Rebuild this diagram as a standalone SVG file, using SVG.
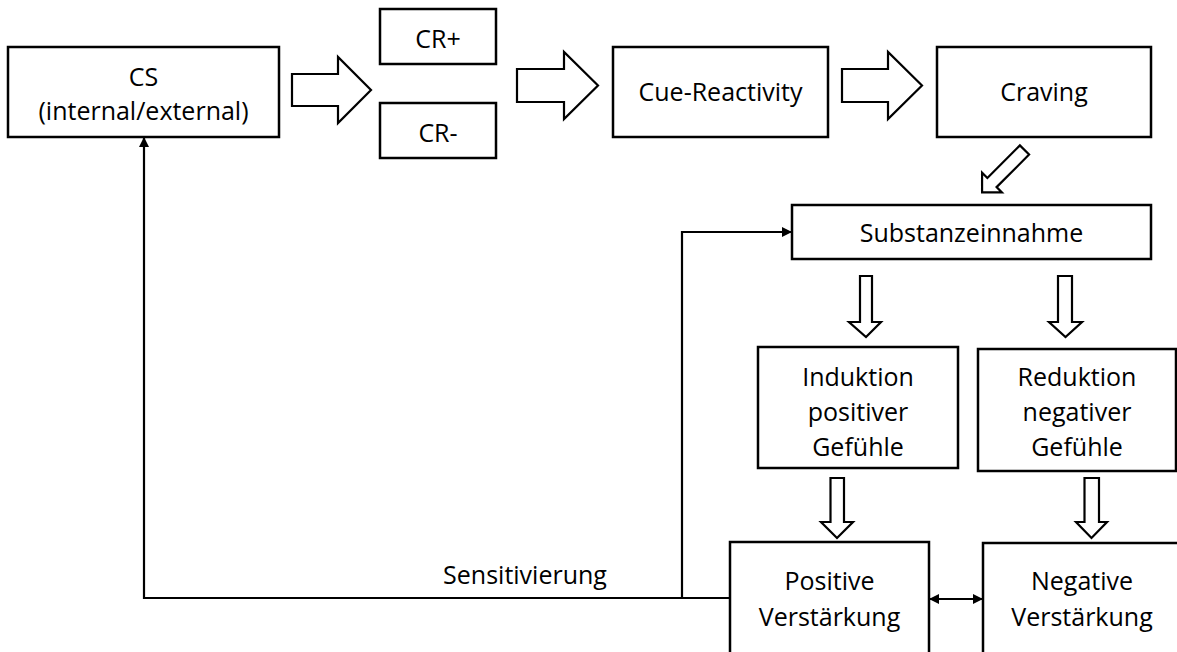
<svg xmlns="http://www.w3.org/2000/svg" width="1177" height="652" viewBox="0 0 1177 652">
  <style>
    .box { fill: #ffffff; stroke: #000000; stroke-width: 2.5; }
    .blk { fill: #ffffff; stroke: #000000; stroke-width: 2.2; stroke-linejoin: miter; }
    .wire { fill: none; stroke: #000000; stroke-width: 2.2; }
    text { font-family: "Open Sans", "DejaVu Sans", sans-serif; font-size: 25px; fill: #000000; text-anchor: middle; }
  </style>
  <defs>
    <marker id="tipEnd" viewBox="0 0 10 10" refX="10" refY="5" markerWidth="10" markerHeight="10" markerUnits="userSpaceOnUse" orient="auto">
      <path d="M0,0 L10,5 L0,10 Z" fill="#000000"/>
    </marker>
    <marker id="tipStart" viewBox="0 0 10 10" refX="0" refY="5" markerWidth="10" markerHeight="10" markerUnits="userSpaceOnUse" orient="auto">
      <path d="M10,0 L0,5 L10,10 Z" fill="#000000"/>
    </marker>
  </defs>

  <rect width="1177" height="652" fill="#ffffff"/>

  <!-- connectors -->
  <g id="connectors">
    <!-- block arrows along the top row -->
    <path class="blk" d="M292,74 H338 V57 L371,90 L338,123 V106 H292 Z"/>
    <path class="blk" d="M517,69 H564 V52 L598,85.5 L564,119 V102 H517 Z"/>
    <path class="blk" d="M842,69 H888 V52 L922,85.5 L888,119 V102 H842 Z"/>
    <!-- diagonal block arrow from Craving down to Substanzeinnahme -->
    <path class="blk" transform="translate(1024.5,150) rotate(135)" d="M0,-6.5 H46 V-14 L60,0 L46,14 V6.5 H0 Z"/>
    <!-- down arrows below Substanzeinnahme -->
    <path class="blk" d="M860,276 H872 V322 H881 L866,337 L849,322 H860 Z"/>
    <path class="blk" d="M1058,276 H1072 V322 H1082 L1065.5,337 L1049,322 H1058 Z"/>
    <!-- down arrows into the reinforcement boxes -->
    <path class="blk" d="M830.5,478 H844 V522 H853 L837,538 L821,522 H830.5 Z"/>
    <path class="blk" d="M1084.5,478 H1099 V522 H1107 L1091.5,538 L1076,522 H1084.5 Z"/>
    <!-- feedback line: Sensitivierung back to CS -->
    <polyline class="wire" points="730,598 144,598 144,137" marker-end="url(#tipEnd)"/>
    <!-- branch up to Substanzeinnahme -->
    <polyline class="wire" points="682,598 682,232 792,232" marker-end="url(#tipEnd)"/>
    <!-- mutual link between the two reinforcement boxes -->
    <line class="wire" x1="929" y1="599" x2="983" y2="599" marker-start="url(#tipStart)" marker-end="url(#tipEnd)"/>
    <text x="525" y="584">Sensitivierung</text>
  </g>

  <g id="cs">
    <rect class="box" x="8" y="47" width="271" height="90"/>
    <text x="143.5" y="86">CS</text>
    <text x="143.5" y="120">(internal/external)</text>
  </g>

  <g id="cr-plus">
    <rect class="box" x="380" y="9" width="116" height="55"/>
    <text x="438" y="48">CR+</text>
  </g>

  <g id="cr-minus">
    <rect class="box" x="380" y="103" width="116" height="55"/>
    <text x="438" y="142">CR-</text>
  </g>

  <g id="cue-reactivity">
    <rect class="box" x="613" y="47" width="215" height="90"/>
    <text x="720.5" y="101">Cue-Reactivity</text>
  </g>

  <g id="craving">
    <rect class="box" x="937" y="47" width="214" height="90"/>
    <text x="1044" y="101">Craving</text>
  </g>

  <g id="substanzeinnahme">
    <rect class="box" x="792" y="205" width="359" height="54"/>
    <text x="971.5" y="242">Substanzeinnahme</text>
  </g>

  <g id="induktion">
    <rect class="box" x="758" y="347" width="200" height="121"/>
    <text x="858" y="386">Induktion</text>
    <text x="858" y="421">positiver</text>
    <text x="858" y="456">Gefühle</text>
  </g>

  <g id="reduktion">
    <rect class="box" x="978" y="349" width="198" height="122"/>
    <text x="1077" y="386">Reduktion</text>
    <text x="1077" y="421">negativer</text>
    <text x="1077" y="456">Gefühle</text>
  </g>

  <g id="positive-verstaerkung">
    <rect class="box" x="730" y="542" width="199" height="120"/>
    <text x="829.5" y="590">Positive</text>
    <text x="829.5" y="626">Verstärkung</text>
  </g>

  <g id="negative-verstaerkung">
    <rect class="box" x="983" y="543" width="210" height="120"/>
    <text x="1082" y="590">Negative</text>
    <text x="1082" y="626">Verstärkung</text>
  </g>
</svg>
